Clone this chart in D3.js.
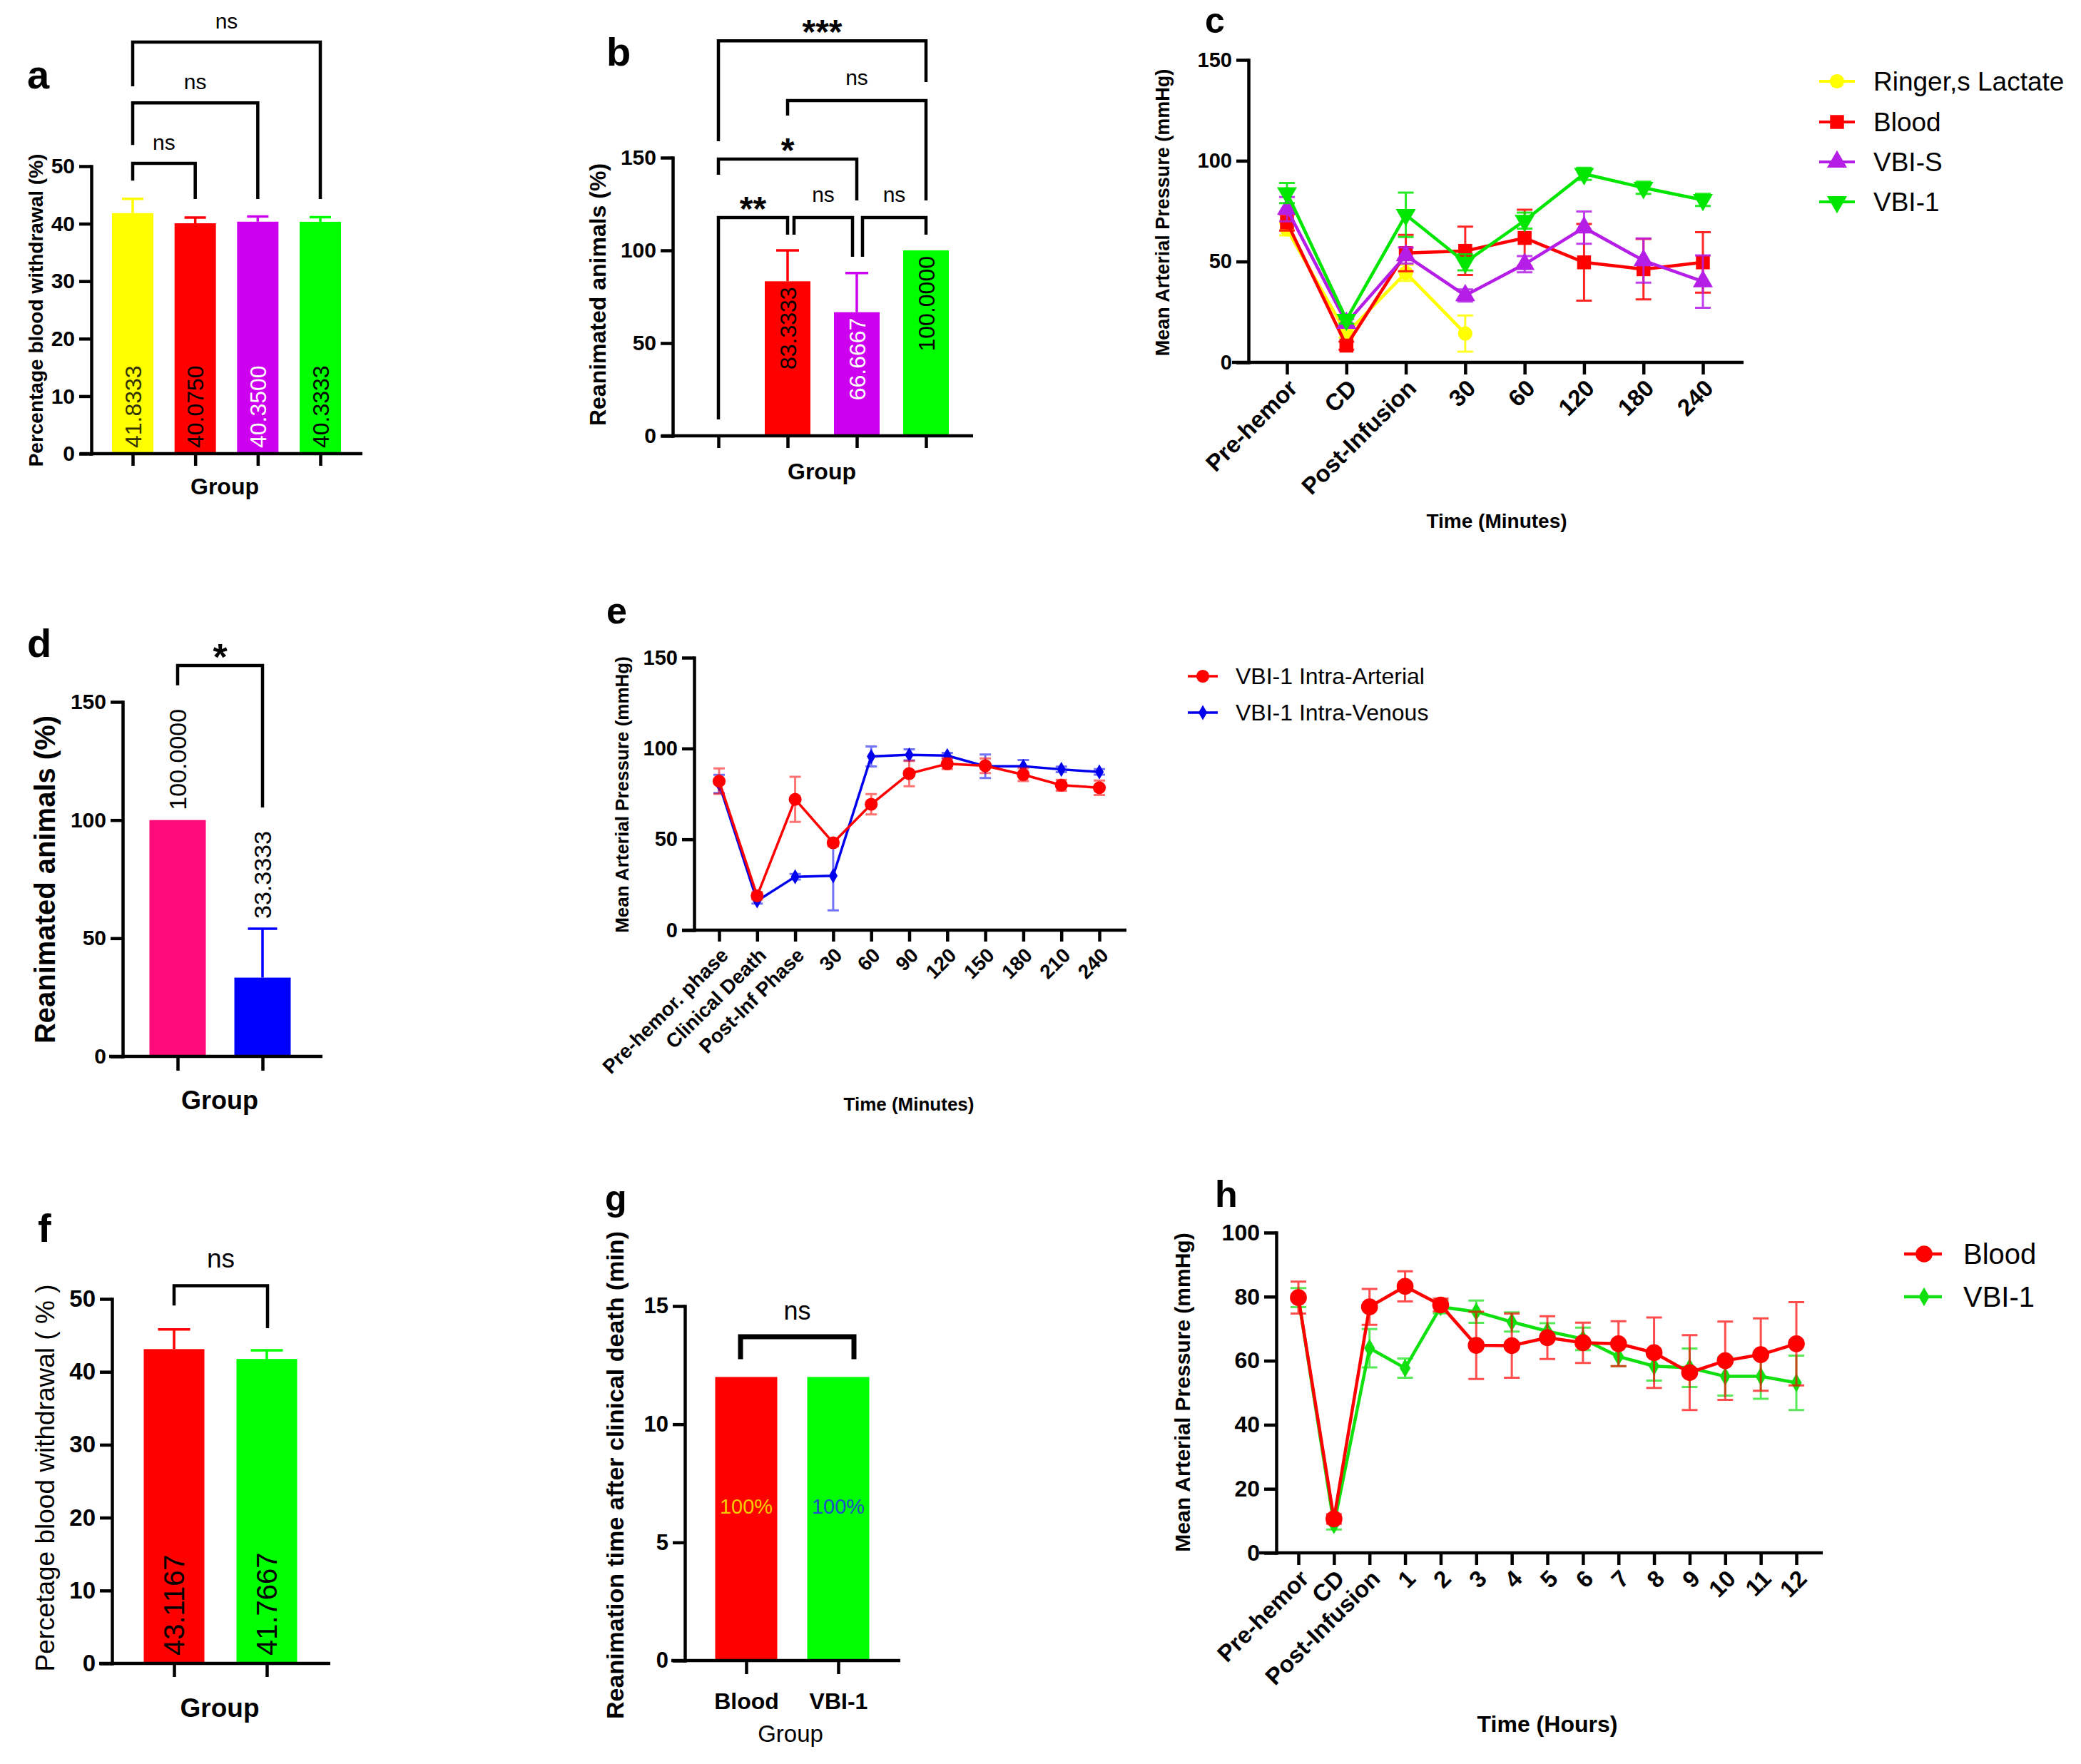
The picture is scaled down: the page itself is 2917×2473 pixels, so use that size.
<!DOCTYPE html>
<html><head><meta charset="utf-8">
<script src="https://cdn.jsdelivr.net/npm/d3@7"></script>
<style>body{margin:0;background:#fff}</style>
</head><body>
<script>
// ---------------- DATA ----------------
// panel a
const groupsA = ["Ringer's Lactate", "Blood", "VBI-S", "VBI-1"];
const withdrawalA = [41.8333, 40.0750, 40.3500, 40.3333];
const withdrawalErrA = [2.5, 1.0, 0.9, 0.8];
const ticksA = [0, 10, 20, 30, 40, 50];
// panel b
const groupsB = ["Ringer's Lactate", "Blood", "VBI-S", "VBI-1"];
const reanimB = [0, 83.3333, 66.6667, 100.0000];
const reanimErrB = [0, 16.67, 21.08, 0];
const ticksB = [0, 50, 100, 150];
// panel c
const timeC = ["Pre-hemor", "CD", "Post-Infusion", "30", "60", "120", "180", "240"];
const ringerC = [66, 14.3, 44.4, 14.3, null, null, null, null];
const ringerErrC = [3, 2, 4, 9, null, null, null, null];
const bloodC = [69.4, 8.3, 54.2, 55.3, 61.7, 49.6, 46.2, 49.6];
const bloodErrC = [4, 2, 9, 12, 14, 19, 15, 15];
const vbisC = [76, 19.5, 53, 33.2, 48.7, 66.8, 50.5, 40.1];
const vbisErrC = [6, 2, 4, 3, 4, 8, 11, 13];
const vbi1C = [84, 21.2, 73.2, 49.6, 70.3, 93.5, 86.6, 80.6];
const vbi1ErrC = [5, 2, 11, 4, 4, 3, 3, 3];
const seriesNamesC = ["Ringer,s Lactate", "Blood", "VBI-S", "VBI-1"];
const ticksC = [0, 50, 100, 150];
// panel d
const groupsD = ["VBI-1 Intra-Arterial", "VBI-1 Intra-Venous"];
const reanimD = [100.0000, 33.3333];
const reanimErrD = [0, 20.7];
const ticksD = [0, 50, 100, 150];
// panel e
const timeE = ["Pre-hemor. phase", "Clinical Death", "Post-Inf Phase", "30", "60", "90", "120", "150", "180", "210", "240"];
const arterialE = [82, 18.9, 72, 48.1, 69.3, 86.2, 91.6, 90.5, 85.6, 79.8, 78.4];
const arterialErrE = [7, 2, 12.4, 2, 5.6, 7, 3, 4, 3.5, 3, 4];
const venousE = [80.5, 16.1, 29.4, 29.9, 95.6, 96.5, 96.1, 90.2, 90.2, 88.5, 87.1];
const venousErrE = [5, 1.5, 1.5, 19, 5.5, 3, 1.5, 6.5, 3.5, 1.5, 1.5];
const seriesNamesE = ["VBI-1 Intra-Arterial", "VBI-1 Intra-Venous"];
const ticksE = [0, 50, 100, 150];
// panel f
const groupsF = ["Blood", "VBI-1"];
const withdrawalF = [43.1167, 41.7667];
const withdrawalErrF = [2.7, 1.2];
const ticksF = [0, 10, 20, 30, 40, 50];
// panel g
const groupsG = ["Blood", "VBI-1"];
const reanimTimeG = [12, 12];
const survivalLabelsG = ["100%", "100%"];
const ticksG = [0, 5, 10, 15];
// panel h
const timeH = ["Pre-hemor", "CD", "Post-Infusion", "1", "2", "3", "4", "5", "6", "7", "8", "9", "10", "11", "12"];
const bloodH = [79.7, 10.6, 76.8, 83.2, 77.4, 64.8, 64.7, 67.2, 65.6, 65.3, 62.5, 56.3, 60, 61.9, 65.3];
const bloodErrH = [5, 1.5, 5.6, 4.7, 2, 10.5, 10, 6.7, 6.3, 7, 11, 11.7, 12.2, 11.3, 13];
const vbi1H = [79.7, 8.8, 63.9, 57.7, 76.8, 75.3, 72.1, 69.2, 66.8, 61.3, 58.3, 57.8, 55.1, 55.1, 53.1];
const vbi1ErrH = [3, 1.5, 6, 3, 2, 3.5, 3, 2.5, 3.5, 3, 4.5, 6, 6, 7, 8.5];
const seriesNamesH = ["Blood", "VBI-1"];
const ticksH = [0, 20, 40, 60, 80, 100];

// ---------------- SETUP ----------------
const W = 2917, H = 2473;
const FF = '"Liberation Sans", Arial, Helvetica, sans-serif';
const AX = 4.5;
const fmt4 = d3.format('.4f');
const svg = d3.select('body').append('svg').attr('width', W).attr('height', H).attr('viewBox', `0 0 ${W} ${H}`);
svg.append('rect').attr('width', W).attr('height', H).attr('fill', '#fff');

function txt(x, y, s, o = {}) {
  const t = svg.append('text').attr('x', x).attr('y', y).text(s)
    .attr('font-family', FF).attr('font-size', o.size || 30)
    .attr('font-weight', o.weight || 'normal').attr('fill', o.fill || '#000')
    .attr('text-anchor', o.anchor || 'start');
  if (o.rotate !== undefined) t.attr('transform', `rotate(${o.rotate},${x},${y})`);
  if (o.style) t.attr('font-style', o.style);
  if (o.db) t.attr('dominant-baseline', o.db);
  return t;
}

function leftAxis(ys, x, ticks, size, weight) {
  const g = svg.append('g').attr('transform', `translate(${x},0)`)
    .call(d3.axisLeft(ys).tickValues(ticks).tickSize(17).tickPadding(6).tickSizeOuter(0));
  g.select('.domain').attr('stroke', '#000').attr('stroke-width', AX).attr('stroke-linecap', 'square');
  g.selectAll('.tick line').attr('stroke', '#000').attr('stroke-width', AX);
  g.selectAll('.tick text').attr('font-family', FF).attr('font-size', size)
    .attr('font-weight', weight).attr('fill', '#000');
  return g;
}

function bottomAxis(xs, y, x0, x1, tickLen, noLabels) {
  svg.append('line').attr('x1', x0).attr('x2', x1).attr('y1', y).attr('y2', y)
    .attr('stroke', '#000').attr('stroke-width', AX);
  const g = svg.append('g').attr('transform', `translate(0,${y})`)
    .call(d3.axisBottom(xs).tickSize(tickLen || 17).tickSizeOuter(0));
  g.select('.domain').remove();
  g.selectAll('.tick line').attr('stroke', '#000').attr('stroke-width', AX);
  if (noLabels) g.selectAll('.tick text').remove();
  else g.selectAll('.tick text').attr('font-family', FF).attr('fill', '#000');
  return g;
}

function rotateTicks(g, size, dx, dy) {
  g.selectAll('.tick text').attr('font-size', size).attr('font-weight', 'bold')
    .attr('text-anchor', 'end')
    .attr('x', 0).attr('y', 0).attr('dy', '0.35em')
    .attr('transform', `translate(${dx},${dy}) rotate(-45)`);
}

function bars(p) {
  const g = svg.append('g');
  g.selectAll('rect').data(p.values).join('rect')
    .attr('x', (d, i) => p.xs(p.groups[i]) - p.bw / 2)
    .attr('y', d => p.ys(d))
    .attr('width', p.bw)
    .attr('height', d => p.ys(0) - p.ys(d))
    .attr('fill', (d, i) => p.colors[i]);
  if (p.errs) {
    g.selectAll('path.err').data(p.values).join('path')
      .attr('d', (d, i) => {
        const e = p.errs[i]; if (!e) return '';
        const cx = p.xs(p.groups[i]), y1 = p.ys(d), y2 = p.ys(d + e), c = p.capW / 2;
        return `M${cx},${y1}V${y2}M${cx - c},${y2}H${cx + c}`;
      })
      .attr('fill', 'none').attr('stroke', (d, i) => p.colors[i]).attr('stroke-width', 3.5);
  }
  return g;
}

function barLabels(p) {
  svg.append('g').selectAll('text').data(p.values).join('text')
    .attr('transform', (d, i) => `translate(${p.xs(p.groups[i])},${p.yPos(d, i)}) rotate(-90)`)
    .attr('text-anchor', p.anchor).attr('dy', '0.36em')
    .attr('font-family', FF).attr('font-size', p.size)
    .attr('fill', (d, i) => p.fills[i])
    .text((d, i) => (p.skip && p.skip[i]) ? '' : fmt4(d));
}

function bracket(x1, x2, yTop, yL, yR, label, o = {}) {
  svg.append('path').attr('d', `M${x1},${yL}V${yTop}H${x2}V${yR}`)
    .attr('fill', 'none').attr('stroke', '#000').attr('stroke-width', o.sw || AX);
  const star = label.includes('*');
  txt((x1 + x2) / 2, star ? yTop + (o.starDy !== undefined ? o.starDy : 6) : yTop - (o.dy || 19), label,
    { size: star ? (o.starSize || 46) : (o.size || 30), weight: star ? 'bold' : 'normal', anchor: 'middle' });
}

function lines(p) {
  const g = svg.append('g');
  p.series.forEach(s => {
    const pts = p.cats.map((c, i) => ({ c, v: s.vals[i], e: s.errs[i] })).filter(d => d.v != null);
    const cw = p.capW / 2;
    g.append('g').selectAll('path').data(pts).join('path')
      .attr('d', d => {
        const x = p.xs(d.c), y1 = p.ys(d.v + d.e), y2 = p.ys(Math.max(0, d.v - d.e));
        return `M${x},${y1}V${y2}M${x - cw},${y1}H${x + cw}M${x - cw},${y2}H${x + cw}`;
      })
      .attr('fill', 'none').attr('stroke', s.color).attr('stroke-width', 3).attr('opacity', p.errOp || 0.8);
    g.append('path').datum(pts)
      .attr('d', d3.line().x(d => p.xs(d.c)).y(d => p.ys(d.v)))
      .attr('fill', 'none').attr('stroke', s.color).attr('stroke-width', p.lw);
    g.append('g').selectAll('path').data(pts).join('path')
      .attr('transform', d => `translate(${p.xs(d.c)},${p.ys(d.v)}) rotate(${s.rot || 0})`)
      .attr('d', d3.symbol().type(s.symbol).size(s.size))
      .attr('fill', s.color);
  });
}

function legend(items, x0, x1, xm, xt, rows, size) {
  items.forEach((s, i) => {
    const y = rows[i];
    svg.append('line').attr('x1', x0).attr('x2', x1).attr('y1', y).attr('y2', y)
      .attr('stroke', s.color).attr('stroke-width', s.lw || 4);
    svg.append('path').attr('transform', `translate(${xm},${y}) rotate(${s.rot || 0})`)
      .attr('d', d3.symbol().type(s.symbol).size(s.size)).attr('fill', s.color);
    txt(xt, y, s.name, { size, db: 'central' });
  });
}

// ---------------- PANEL A ----------------
{
  const ys = d3.scaleLinear().domain([0, 50]).range([636, 233]);
  const xs = d3.scalePoint().domain(groupsA).range([186, 449]);
  const colors = ['#FFFF00', '#FF0000', '#CC00EE', '#00FF00'];
  bars({ groups: groupsA, values: withdrawalA, errs: withdrawalErrA, colors, xs, ys, bw: 58, capW: 30 });
  barLabels({ groups: groupsA, values: withdrawalA, xs, yPos: () => 628, anchor: 'start', size: 32,
    fills: ['#333300', '#000', '#FFFFFF', '#000'] });
  leftAxis(ys, 128, ticksA, 30, 'bold');
  bottomAxis(xs, 636, 112, 508, 17, true);
  const X = g => xs(g);
  bracket(X(groupsA[0]), X(groupsA[1]), ys(50.5), ys(47.5), ys(44.3), 'ns');
  bracket(X(groupsA[0]), X(groupsA[2]), ys(61.0), ys(53.7), ys(44.3), 'ns');
  bracket(X(groupsA[0]), X(groupsA[3]), ys(71.6), ys(63.9), ys(44.3), 'ns');
  txt(38, 124, 'a', { size: 56, weight: 'bold' });
  txt(50, 435, 'Percentage blood withdrawal (%)', { size: 28, weight: 'bold', rotate: -90, anchor: 'middle', db: 'central' });
  txt(315, 693, 'Group', { size: 32, weight: 'bold', anchor: 'middle' });
}

// ---------------- PANEL B ----------------
{
  const ys = d3.scaleLinear().domain([0, 150]).range([611, 221]);
  const xs = d3.scalePoint().domain(groupsB).range([1007, 1298]);
  const colors = ['#FFFF00', '#FF0000', '#CC00EE', '#00FF00'];
  bars({ groups: groupsB, values: reanimB, errs: reanimErrB, colors, xs, ys, bw: 64, capW: 32 });
  barLabels({ groups: groupsB, values: reanimB, xs, yPos: d => ys(d) + 8, anchor: 'end', size: 32,
    fills: ['#000', '#000', '#FFFFFF', '#000'], skip: [true, false, false, false] });
  leftAxis(ys, 943, ticksB, 30, 'bold');
  bottomAxis(xs, 611, 927, 1364, 17, true);
  const X = g => xs(g);
  bracket(X(groupsB[0]), X(groupsB[3]), ys(213), ys(158.8), ys(190.8), '***', { starSize: 48, starDy: 4 });
  bracket(X(groupsB[1]), X(groupsB[3]), ys(180.8), ys(172.7), ys(126.9), 'ns', { dy: 22 });
  bracket(X(groupsB[0]), X(groupsB[2]), ys(149.2), ys(140.8), ys(126.9), '*', { starSize: 48, starDy: 4 });
  bracket(X(groupsB[0]), X(groupsB[1]), ys(117.7), ys(8.8), ys(108.5), '**', { starSize: 48, starDy: 4 });
  bracket(X(groupsB[1]) + 9, X(groupsB[2]) - 6, ys(117.7), ys(108.5), ys(96.5), 'ns', { dy: 22 });
  bracket(X(groupsB[2]) + 8, X(groupsB[3]), ys(117.7), ys(96.5), ys(108.5), 'ns', { dy: 22 });
  txt(850, 92, 'b', { size: 56, weight: 'bold' });
  txt(838, 413, 'Reanimated animals (%)', { size: 32, weight: 'bold', rotate: -90, anchor: 'middle', db: 'central' });
  txt(1152, 672, 'Group', { size: 32, weight: 'bold', anchor: 'middle' });
}

// ---------------- PANEL C ----------------
{
  const ys = d3.scaleLinear().domain([0, 150]).range([508, 84]);
  const xs = d3.scalePoint().domain(timeC).range([1804, 2387]);
  const series = [
    { name: seriesNamesC[0], vals: ringerC, errs: ringerErrC, color: '#FFFF00', symbol: d3.symbolCircle, size: 320 },
    { name: seriesNamesC[1], vals: bloodC, errs: bloodErrC, color: '#FF0000', symbol: d3.symbolSquare, size: 380 },
    { name: seriesNamesC[2], vals: vbisC, errs: vbisErrC, color: '#B41EE6', symbol: d3.symbolTriangle, size: 340 },
    { name: seriesNamesC[3], vals: vbi1C, errs: vbi1ErrC, color: '#00E600', symbol: d3.symbolTriangle, size: 340, rot: 180 }
  ];
  lines({ cats: timeC, series, xs, ys, lw: 4.5, capW: 22, errOp: 0.85 });
  leftAxis(ys, 1750, ticksC, 29, 'bold');
  const gx = bottomAxis(xs, 508, 1727, 2444, 17);
  rotateTicks(gx, 33, 8, 30);
  txt(1689, 46, 'c', { size: 50, weight: 'bold' });
  txt(1630, 298, 'Mean Arterial Pressure (mmHg)', { size: 27, weight: 'bold', rotate: -90, anchor: 'middle', db: 'central' });
  txt(2098, 740, 'Time (Minutes)', { size: 28, weight: 'bold', anchor: 'middle' });
  legend(series, 2550, 2600, 2575, 2626, [114, 171, 227, 283], 37);
}

// ---------------- PANEL D ----------------
{
  const ys = d3.scaleLinear().domain([0, 150]).range([1481, 984]);
  const xs = d3.scalePoint().domain(groupsD).range([249, 368]);
  const colors = ['#FF0A7A', '#0000FF'];
  bars({ groups: groupsD, values: reanimD, errs: reanimErrD, colors, xs, ys, bw: 79, capW: 41 });
  barLabels({ groups: groupsD, values: reanimD, xs, yPos: (d, i) => ys(d + reanimErrD[i]) - 14, anchor: 'start', size: 34,
    fills: ['#000', '#000'] });
  leftAxis(ys, 172, ticksD, 30, 'bold');
  bottomAxis(xs, 1481, 153, 452, 20, true);
  bracket(xs(groupsD[0]), xs(groupsD[1]), ys(165.4), ys(157), ys(105.3), '*', { starSize: 52, starDy: 6 });
  txt(38, 921, 'd', { size: 56, weight: 'bold' });
  txt(63, 1233, 'Reanimated animals (%)', { size: 40, weight: 'bold', rotate: -90, anchor: 'middle', db: 'central' });
  txt(308, 1555, 'Group', { size: 36, weight: 'bold', anchor: 'middle' });
}

// ---------------- PANEL E ----------------
{
  const ys = d3.scaleLinear().domain([0, 150]).range([1304, 922]);
  const xs = d3.scalePoint().domain(timeE).range([1008, 1541]);
  const series = [
    { name: seriesNamesE[0], vals: arterialE, errs: arterialErrE, color: '#FF0000', symbol: d3.symbolCircle, size: 260, lw: 3.5 },
    { name: seriesNamesE[1], vals: venousE, errs: venousErrE, color: '#0000EE', symbol: d3.symbolDiamond, size: 130, lw: 3.5 }
  ];
  lines({ cats: timeE, series: [series[1], series[0]], xs, ys, lw: 3.5, capW: 16, errOp: 0.55 });
  leftAxis(ys, 973, ticksE, 29, 'bold');
  const gx = bottomAxis(xs, 1304, 956, 1579, 16);
  rotateTicks(gx, 28, 7, 30);
  txt(850, 874, 'e', { size: 52, weight: 'bold' });
  txt(872, 1114, 'Mean Arterial Pressure (mmHg)', { size: 26, weight: 'bold', rotate: -90, anchor: 'middle', db: 'central' });
  txt(1274, 1557, 'Time (Minutes)', { size: 26, weight: 'bold', anchor: 'middle' });
  legend(series, 1665, 1707, 1686, 1732, [948, 999], 32);
}

// ---------------- PANEL F ----------------
{
  const ys = d3.scaleLinear().domain([0, 50]).range([2332, 1821]);
  const xs = d3.scalePoint().domain(groupsF).range([244, 374]);
  const colors = ['#FF0000', '#00FF00'];
  bars({ groups: groupsF, values: withdrawalF, errs: withdrawalErrF, colors, xs, ys, bw: 85, capW: 45 });
  barLabels({ groups: groupsF, values: withdrawalF, xs, yPos: () => 2321, anchor: 'start', size: 40,
    fills: ['#000', '#000'] });
  leftAxis(ys, 157, ticksF, 33, 'bold');
  bottomAxis(xs, 2332, 139, 463, 19, true);
  bracket(xs(groupsF[0]), xs(groupsF[1]) + 1, ys(51.8), ys(49.1), ys(46.0), 'ns', { size: 37, dy: 26 });
  txt(53, 1741, 'f', { size: 56, weight: 'bold' });
  txt(63, 2072, 'Percetage blood withdrawal ( % )', { size: 37, rotate: -90, anchor: 'middle', db: 'central' });
  txt(308, 2407, 'Group', { size: 37, weight: 'bold', anchor: 'middle' });
}

// ---------------- PANEL G ----------------
{
  const ys = d3.scaleLinear().domain([0, 15]).range([2328, 1831]);
  const xs = d3.scalePoint().domain(groupsG).range([1046, 1175]);
  const colors = ['#FF0000', '#00FF00'];
  bars({ groups: groupsG, values: reanimTimeG, colors, xs, ys, bw: 87 });
  svg.append('g').selectAll('text').data(survivalLabelsG).join('text')
    .attr('x', (d, i) => xs(groupsG[i])).attr('y', (d, i) => ys(reanimTimeG[i] * 0.545))
    .attr('text-anchor', 'middle').attr('dy', '0.36em')
    .attr('font-family', FF).attr('font-size', 29)
    .attr('fill', (d, i) => ['#F5CC00', '#1F4FC8'][i]).text(d => d);
  leftAxis(ys, 960, ticksG, 31, 'bold');
  const gx = bottomAxis(xs, 2328, 941, 1262, 19);
  gx.selectAll('.tick text').attr('font-size', 32).attr('font-weight', 'bold').attr('dy', '1.45em');
  bracket(xs(groupsG[0]) - 8, xs(groupsG[1]) + 22, ys(13.7), ys(12.75), ys(12.75), 'ns', { sw: 7, size: 36, dy: 24 });
  txt(848, 1697, 'g', { size: 50, weight: 'bold' });
  txt(862, 2068, 'Reanimation time after clinical death (min)', { size: 34, weight: 'bold', rotate: -90, anchor: 'middle', db: 'central' });
  txt(1108, 2442, 'Group', { size: 33, anchor: 'middle' });
}

// ---------------- PANEL H ----------------
{
  const ys = d3.scaleLinear().domain([0, 100]).range([2177, 1728]);
  const xs = d3.scalePoint().domain(timeH).range([1820, 2518]);
  const series = [
    { name: seriesNamesH[0], vals: bloodH, errs: bloodErrH, color: '#FF0000', symbol: d3.symbolCircle, size: 440, lw: 4.5 },
    { name: seriesNamesH[1], vals: vbi1H, errs: vbi1ErrH, color: '#10E010', symbol: d3.symbolDiamond, size: 200, lw: 4.5 }
  ];
  lines({ cats: timeH, series: [series[1], series[0]], xs, ys, lw: 4.5, capW: 22, errOp: 0.7 });
  leftAxis(ys, 1789, ticksH, 32, 'bold');
  const gx = bottomAxis(xs, 2177, 1765, 2555, 17);
  rotateTicks(gx, 33, 8, 30);
  txt(1703, 1692, 'h', { size: 52, weight: 'bold' });
  txt(1657, 1952, 'Mean Arterial Pressure (mmHg)', { size: 30, weight: 'bold', rotate: -90, anchor: 'middle', db: 'central' });
  txt(2169, 2428, 'Time (Hours)', { size: 32, weight: 'bold', anchor: 'middle' });
  legend(series, 2669, 2722, 2697, 2752, [1758, 1818], 40);
}
</script>
</body></html>
